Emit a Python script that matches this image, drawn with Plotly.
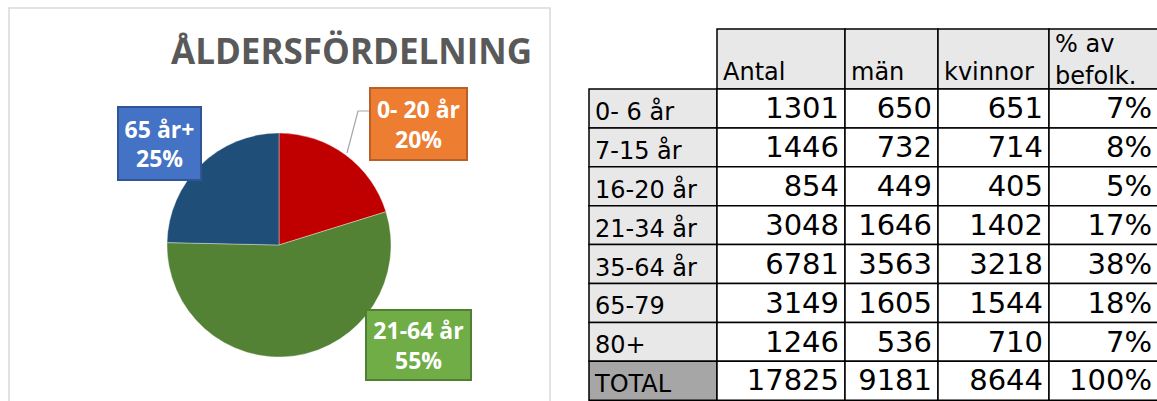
import plotly.graph_objects as go

W, H = 1157, 401

# ---- data ----
pie_labels = ["0- 20 år", "21-64 år", "65 år+"]
pie_values = [3601, 9829, 4395]
pie_pct_text = ["20%", "55%", "25%"]

headers = ["Antal", "män", "kvinnor", "% av<br>befolk."]
row_labels = ["0- 6 år", "7-15 år", "16-20 år", "21-34 år", "35-64 år", "65-79", "80+", "TOTAL"]
antal = [1301, 1446, 854, 3048, 6781, 3149, 1246, 17825]
man = [650, 732, 449, 1646, 3563, 1605, 536, 9181]
kvinnor = [651, 714, 405, 1402, 3218, 1544, 710, 8644]
pct = ["7%", "8%", "5%", "17%", "38%", "18%", "7%", "100%"]

# ---- styles ----
pie_colors = ["#C00000", "#548235", "#1F4E79"]
label_fill = ["#ED7D31", "#70AD47", "#4472C4"]
label_border = ["#B9602A", "#507E32", "#2F5597"]
GRID = "#000000"
LABEL_BG = "#E8E8E8"
TOTAL_BG = "#A6A6A6"
TFONT = "DejaVu Sans"


def px(x):
    return x / W


def py(y):
    return 1 - y / H


fig = go.Figure()

# ---- pie ----
fig.add_trace(go.Pie(
    labels=pie_labels, values=pie_values, sort=False, direction="clockwise",
    rotation=0, textinfo="none", hole=0, hoverinfo="label+percent",
    marker=dict(colors=pie_colors, line=dict(color="rgba(255,255,255,0.6)", width=0.6)),
    domain=dict(x=[px(167), px(391)], y=[py(357), py(133)]),
    showlegend=False,
))

# ---- table on its own pixel-unit axes ----
col_w = [128, 128, 93, 111, 109]
header_h = 60
row_h = 38.9
edges = [0]
for w in col_w:
    edges.append(edges[-1] + w)
n = len(row_labels)

shapes = []
for c in range(1, len(col_w)):
    shapes.append(dict(type="rect", xref="x", yref="y", x0=edges[c], x1=edges[c + 1],
                       y0=0, y1=header_h, fillcolor=LABEL_BG, line=dict(color=GRID, width=1.5),
                       layer="below"))
for r in range(n):
    y0 = header_h + r * row_h
    for c in range(len(col_w)):
        if c == 0:
            fill = TOTAL_BG if r == n - 1 else LABEL_BG
        else:
            fill = "#FFFFFF"
        shapes.append(dict(type="rect", xref="x", yref="y", x0=edges[c], x1=edges[c + 1],
                           y0=y0, y1=y0 + row_h, fillcolor=fill,
                           line=dict(color=GRID, width=1.5), layer="below"))

row_bottoms = [header_h + (r + 1) * row_h for r in range(n)]
LAB_FS, NUM_FS, HEAD_FS = 24, 29, 24

fig.add_trace(go.Scatter(
    x=[edges[0] + 6] * n, y=[b - 14 for b in row_bottoms], text=row_labels,
    mode="text", textposition="middle right", hoverinfo="skip",
    textfont=dict(family=TFONT, size=LAB_FS, color="#000000"),
    xaxis="x", yaxis="y", showlegend=False,
))
for c, vals in enumerate([antal, man, kvinnor, pct], start=1):
    fig.add_trace(go.Scatter(
        x=[edges[c + 1] - 6] * n, y=[b - 17 for b in row_bottoms], text=[str(v) for v in vals],
        mode="text", textposition="middle left", hoverinfo="skip",
        textfont=dict(family=TFONT, size=NUM_FS, color="#000000"),
        xaxis="x", yaxis="y", showlegend=False,
    ))
head_y = [header_h - 15 if "<br>" not in h else header_h - 27 for h in headers]
fig.add_trace(go.Scatter(
    x=[edges[c] + 6 for c in range(1, len(col_w))], y=head_y, text=headers,
    mode="text", textposition="middle right", hoverinfo="skip",
    textfont=dict(family=TFONT, size=HEAD_FS, color="#000000"),
    xaxis="x", yaxis="y", showlegend=False,
))

annotations = []
annotations.append(dict(
    text="<b>ÅLDERSFÖRDELNING</b>", x=px(534), y=py(51), xref="paper", yref="paper",
    xanchor="right", yanchor="middle", showarrow=False,
    font=dict(family="Open Sans", size=35, color="#595959"),
))

box_geo = [(418.5, 124, 99, 74), (418.5, 345, 107, 72), (159.5, 143.5, 85, 75)]
for i, (cx, cy, bw, bh) in enumerate(box_geo):
    annotations.append(dict(
        text=f"<b>{pie_labels[i]}<br>{pie_pct_text[i]}</b>",
        x=px(cx), y=py(cy), xref="paper", yref="paper",
        xanchor="center", yanchor="middle", showarrow=False,
        width=bw - 4, height=bh - 4, borderpad=0, borderwidth=2,
        bgcolor=label_fill[i], bordercolor=label_border[i],
        font=dict(family="Open Sans", size=23, color="#FFFFFF"), align="center",
    ))

shapes += [
    dict(type="rect", xref="paper", yref="paper", x0=px(9), x1=px(550), y0=py(420), y1=py(8),
         line=dict(color="#D9D9D9", width=1.5), fillcolor="rgba(0,0,0,0)", layer="below"),
    dict(type="path", xref="paper", yref="paper",
         path=f"M {px(369)} {py(111)} L {px(358)} {py(111)} L {px(347)} {py(153)}",
         line=dict(color="#A6A6A6", width=1.2)),
]

x_left_px, y_top_px = 587, 27
fig.update_layout(
    width=W, height=H, margin=dict(l=0, r=0, t=0, b=0, autoexpand=False),
    paper_bgcolor="#FFFFFF", plot_bgcolor="rgba(0,0,0,0)",
    showlegend=False, annotations=annotations, shapes=shapes,
    xaxis=dict(domain=[px(x_left_px), 1], range=[-(589 - x_left_px), W - 589],
               visible=False, fixedrange=True),
    yaxis=dict(domain=[0, py(y_top_px)], range=[H - 29, -(29 - y_top_px)],
               visible=False, fixedrange=True),
)

fig.write_html("out.html", config={"displayModeBar": False},
               post_script="document.body.style.margin='0px';document.body.style.overflow='hidden';")
